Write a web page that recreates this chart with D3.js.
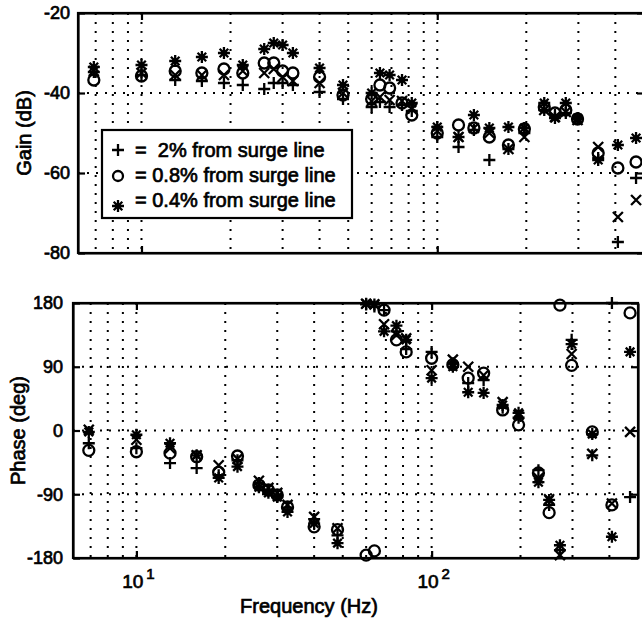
<!DOCTYPE html>
<html>
<head>
<meta charset="utf-8">
<script src="https://cdn.jsdelivr.net/npm/d3@7"></script>
<style>
    body { margin: 0; background: #fff; }
    svg { display: block; font-family: "Liberation Sans", Arial, Helvetica, sans-serif; }
    .grid line { stroke: #000; stroke-width: 2; stroke-dasharray: 2 7; }
    .axis path, .axis line { stroke: #000; stroke-width: 2.2; }
    .axis text { font-size: 18px; fill: #000; stroke: #000; stroke-width: 0.7; }
    .label { font-size: 20px; fill: #000; stroke: #000; stroke-width: 0.7; }
    .legend text { font-size: 20px; fill: #000; stroke: #000; stroke-width: 0.7; white-space: pre; }
    .mark { fill: none; stroke: #000; stroke-width: 2.3; }
</style>
</head>
<body>
<svg id="chart" width="642" height="624"></svg>
<script>
// frequencies (Hz), shared by all series
const freq = [6.9, 10, 13, 16, 19, 22, 26, 28, 30, 32.5, 40, 48, 60, 64, 69, 76, 82,
    100, 118, 133, 150, 174, 197, 230, 250, 272, 298, 350, 408, 470];

// gain (dB)
const gainPlus = [-34.75, -35.5, -36.75, -37, -37.5, -38, -39, -37.5, -37.5, -38, -39.75, -41.5, -43.5, -42.25, -43.5, -43, -44.5,
    -51, -53.5, -49.25, -56.75, -54, -50, -44.25, -45.5, -45, -46.5, -56.25, -77.25, -61.25];
const gainCircle = [-36.75, -35.75, -34.5, -35, -34, -35, -32.5, -32.5, -34.5, -35, -36, -40.5, -41.5, -38, -38.75, -42.5, -45.5,
    -50, -48, -48.75, -51, -53, -49, -43.5, -45, -44.25, -46.5, -55, -58.75, -57.25];
const gainStar = [-33.5, -33, -32, -31, -30, -33, -29, -27.5, -28, -30, -33.75, -38, -40, -35, -35.5, -36.75, -42.5,
    -48.5, -51, -45.5, -48.75, -48.5, -48.75, -42.5, -46.25, -42.5, -46.25, -56.75, -53, -51.25];
const gainCross = [-34.5, -35, -35.5, -35.5, -35.5, -34.5, -35, -34, -36, -37, -37.5, -40, -42, -41, -41.75, -42, -44,
    -49.5, -51, -48.75, -50, -54, -51, -44.25, -46, -44.75, -46.75, -53.5, -71, -66.75];

// phase (deg)
const phasePlus = [-18, -25, -46, -53, -63, -42, -74, -85, -92, -109, -125, -148, 178, 175, 170, 140, 115,
    111, 95, 67, 71, 32, 18, -56, -105, -169, 128, -35, 180, -94];
const phaseCircle = [-28, -30, -32, -37, -59, -36, -77, -84, -91, -108, -136, -140, -176, -170, 170, 128, 111,
    102, 93, 74, 81, 29, 8, -60, -116, 177, 92, -2, -105, 166];
const phaseStar = [-2, -6, -18, -35, -67, -51, -80, -88, -94, -115, -131, -159, 179, 178, 140, 148, 128,
    74, 90, 54, 53, 36, 25, -73, -98, -162, 122, -5, -150, 111];
const phaseCross = [1, -13, -25, -35, -49, -40, -71, -81, -88, -105, -122, -138, 179, 178, 150, 135, 130,
    85, 100, 90, 78, 40, 22, -67, -97, -176, 108, -33, -103, -2];

// axis ticks
const gainTicks = [-20, -40, -60, -80];
const phaseTicks = [180, 90, 0, -90, -180];
const freqTicks = [10, 100];
const freqGrid = [7, 8, 9, 10, 20, 30, 40, 50, 60, 70, 80, 90, 100, 200, 300, 400];
const legendLabels = ['=  2% from surge line', '= 0.8% from surge line', '= 0.4% from surge line'];

// marker shapes
const shapes = {
    plus: 'M-6,0H6M0,-6V6',
    cross: 'M-5,-5L5,5M-5,5L5,-5',
    star: 'M-6,0H6M0,-6V6M-4.3,-4.3L4.3,4.3M-4.3,4.3L4.3,-4.3'
};

const svg = d3.select('#chart');

function drawPanel(p) {
    const x = d3.scaleLog().domain([6.1, 500]).range([p.left, p.right]);
    const y = d3.scaleLinear().domain(p.domain).range([p.top, p.bottom]);
    const g = svg.append('g');

    // dotted grid
    const grid = g.append('g').attr('class', 'grid');
    grid.selectAll('line.v')
        .data(freqGrid)
        .enter()
        .append('line')
        .attr('x1', d => x(d)).attr('x2', d => x(d))
        .attr('y1', p.top).attr('y2', p.bottom);
    grid.selectAll('line.h')
        .data(p.ticks.slice(1, -1))
        .enter()
        .append('line')
        .attr('x1', p.left).attr('x2', p.right)
        .attr('y1', d => y(d)).attr('y2', d => y(d));

    // axes (inward ticks)
    const yLeft = d3.axisLeft(y).tickValues(p.ticks).tickSizeInner(-7).tickSizeOuter(0)
        .tickPadding(p.pad).tickFormat(d => String(d));
    const yRight = d3.axisRight(y).tickValues(p.ticks).tickSizeInner(-7).tickSizeOuter(0).tickFormat('');
    const xBottom = d3.axisBottom(x).tickValues(freqTicks).tickSizeInner(-7).tickSizeOuter(0).tickFormat('');
    const xTop = d3.axisTop(x).tickValues(freqTicks).tickSizeInner(-7).tickSizeOuter(0).tickFormat('');
    g.append('g').attr('class', 'axis').attr('transform', `translate(${p.left},0)`).call(yLeft);
    g.append('g').attr('class', 'axis').attr('transform', `translate(${p.right},0)`).call(yRight);
    g.append('g').attr('class', 'axis').attr('transform', `translate(0,${p.bottom})`).call(xBottom);
    g.append('g').attr('class', 'axis').attr('transform', `translate(0,${p.top})`).call(xTop);

    g.append('rect')
        .attr('x', p.left).attr('y', p.top)
        .attr('width', p.right - p.left).attr('height', p.bottom - p.top)
        .attr('fill', 'none').attr('stroke', '#000').attr('stroke-width', 2.2);

    // markers
    p.series.forEach(s => {
        const pts = freq.map((f, i) => [x(f), y(s.values[i])]);
        if (s.shape === 'circle') {
            g.selectAll(null).data(pts).enter().append('circle')
                .attr('class', 'mark')
                .attr('cx', d => d[0]).attr('cy', d => d[1]).attr('r', 5.5);
        } else {
            g.selectAll(null).data(pts).enter().append('path')
                .attr('class', 'mark')
                .attr('transform', d => `translate(${d[0]},${d[1]})`)
                .attr('d', shapes[s.shape]);
        }
    });

    // y label
    g.append('text')
        .attr('class', 'label')
        .attr('transform', `translate(${p.labelX},${(p.top + p.bottom) / 2}) rotate(-90)`)
        .attr('text-anchor', 'middle')
        .text(p.label);

    return x;
}

// gain panel
drawPanel({
    left: 78, right: 644, top: 13, bottom: 253, pad: 8,
    domain: [-20, -80], ticks: gainTicks,
    label: 'Gain (dB)', labelX: 31,
    series: [
        { shape: 'plus', values: gainPlus },
        { shape: 'circle', values: gainCircle },
        { shape: 'star', values: gainStar },
        { shape: 'cross', values: gainCross }
    ]
});

// legend
const legend = svg.append('g').attr('class', 'legend');
legend.append('rect')
    .attr('x', 102).attr('y', 130).attr('width', 250).attr('height', 88)
    .attr('fill', '#fff').attr('stroke', '#000').attr('stroke-width', 2.2);
const legendShapes = ['plus', 'circle', 'star'];
legendLabels.forEach((t, i) => {
    const cy = 150 + i * 26;
    if (legendShapes[i] === 'circle') {
        legend.append('circle').attr('class', 'mark').attr('cx', 118).attr('cy', cy).attr('r', 5);
    } else {
        legend.append('path').attr('class', 'mark')
            .attr('transform', `translate(118,${cy + (i === 2 ? 4 : 0)})`)
            .attr('d', shapes[legendShapes[i]]);
    }
    legend.append('text').attr('x', 135).attr('y', 157 + i * 25).text(t);
});

// phase panel
const xPhase = drawPanel({
    left: 73, right: 638, top: 303, bottom: 558, pad: 10,
    domain: [180, -180], ticks: phaseTicks,
    label: 'Phase (deg)', labelX: 25,
    series: [
        { shape: 'plus', values: phasePlus },
        { shape: 'circle', values: phaseCircle },
        { shape: 'star', values: phaseStar },
        { shape: 'cross', values: phaseCross }
    ]
});

// decade labels
freqTicks.forEach(f => {
    const t = svg.append('text')
        .attr('class', 'label')
        .attr('x', xPhase(f) + 2).attr('y', 588)
        .attr('text-anchor', 'middle')
        .style('font-size', '19px');
    t.append('tspan').text('10');
    t.append('tspan').attr('dx', 3).attr('dy', -9).style('font-size', '15px').text(String(Math.log10(f)));
});

svg.append('text')
    .attr('class', 'label')
    .attr('x', 309).attr('y', 613)
    .attr('text-anchor', 'middle')
    .text('Frequency (Hz)');
</script>
</body>
</html>
